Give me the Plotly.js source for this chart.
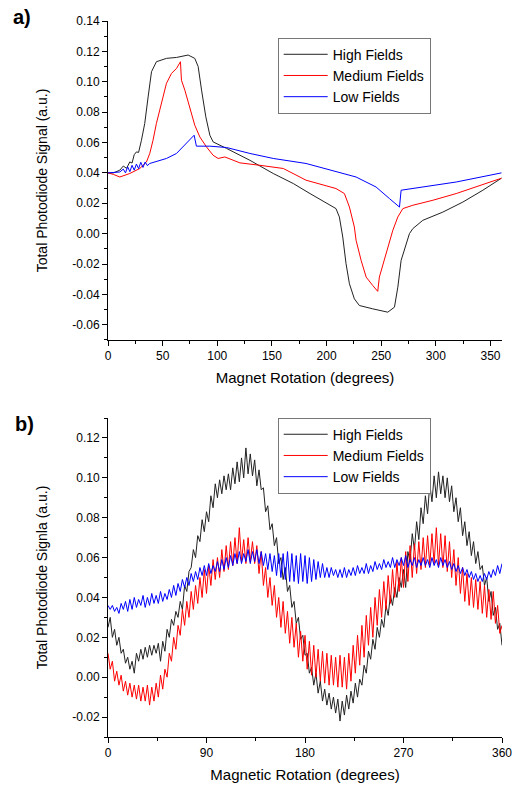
<!DOCTYPE html>
<html>
<head>
<meta charset="utf-8">
<script src="https://cdn.plot.ly/plotly-3.0.1.min.js"></script>
<style>html,body{margin:0;padding:0;background:#fff;}#chart{width:512px;height:790px;}</style>
</head>
<body>
<div id="chart"></div>
<script>
// ---------- Panel a) data ----------
const highA_x = [0,5,10.8,14,17,19.9,22,24,26,28,30.6,33.6,36.7,39.8,44.3,53.5,62.7,73.3,79.4,82.5,85.6,89.5,93.2,96.2,108.5,129.8,151.2,169.5,184.8,208.6,211.7,214.8,217.8,220.9,225.4,230,242.2,256,262.1,265.2,268.2,272.8,275.8,278.9,288.1,306.4,324.7,343,360];
const highA_y = [0.040,0.040,0.0418,0.0445,0.043,0.0472,0.0465,0.052,0.0538,0.0535,0.0615,0.0725,0.090,0.1066,0.1132,0.1154,0.116,0.1176,0.1154,0.110,0.0945,0.0769,0.0648,0.0604,0.0561,0.0483,0.0396,0.033,0.0264,0.0165,0.011,-0.0022,-0.0198,-0.033,-0.0429,-0.0473,-0.0495,-0.0517,-0.0484,-0.0352,-0.0176,-0.0066,0.000,0.0033,0.0088,0.0142,0.0208,0.0286,0.0365];
const medA_x = [0,5,10.8,19.9,29.1,35.2,38.2,41.2,44.3,48.9,53.5,58.1,62.7,66.3,67.2,70.3,74.9,79.4,84,90.1,96.2,100.8,106.9,113,120.7,139,160.4,181.2,208.6,216.3,220.9,225.4,227,231.6,236.2,242.2,246.8,248.3,251.4,256,260.6,265.2,269.8,278.9,297.3,318.6,336.9,360];
const medA_y = [0.040,0.039,0.0373,0.0396,0.0429,0.0472,0.0528,0.0615,0.0726,0.0858,0.099,0.1055,0.1088,0.1132,0.101,0.0945,0.0835,0.0714,0.0637,0.0571,0.0516,0.0495,0.0505,0.0488,0.0466,0.045,0.0429,0.0352,0.0297,0.0264,0.0175,0.0044,-0.0044,-0.0176,-0.0286,-0.0341,-0.038,-0.0286,-0.0209,-0.0088,0.0022,0.011,0.0165,0.0187,0.022,0.0264,0.0307,0.0365];
const lowA_x = [0,10.8,14,16,18,20,22,24,26,28,30,32,34,36,38.2,53.5,62.7,71.8,78.8,80.9,93.2,108.5,129.8,151.2,181.2,227,245.3,257.5,266.7,268.2,288.1,318.6,360];
const lowA_y = [0.040,0.0406,0.0425,0.0400,0.0440,0.0408,0.0450,0.0418,0.0458,0.0428,0.0470,0.0436,0.0472,0.0448,0.0462,0.0495,0.0528,0.0594,0.0648,0.0576,0.0576,0.0567,0.0528,0.0495,0.0462,0.0373,0.0307,0.0231,0.0175,0.0286,0.0307,0.034,0.040];

// ---------- Panel b) data (sampled every 2 degrees, 0..360) ----------
const highB_y = [0.025,0.030,0.020,0.024,0.016,0.020,0.012,0.014,0.007,0.010,
0.004,0.008,0.002,0.012,0.008,0.014,0.009,0.015,0.010,0.016,
0.011,0.016,0.012,0.017,0.008,0.018,0.013,0.024,0.020,0.029,
0.026,0.033,0.030,0.038,0.034,0.046,0.043,0.053,0.055,0.064,
0.060,0.071,0.068,0.079,0.073,0.083,0.078,0.091,0.085,0.097,
0.090,0.099,0.092,0.101,0.094,0.102,0.094,0.105,0.097,0.108,
0.098,0.110,0.100,0.115,0.102,0.112,0.101,0.109,0.096,0.104,
0.094,0.095,0.083,0.086,0.074,0.077,0.066,0.070,0.057,0.060,
0.049,0.055,0.043,0.046,0.035,0.038,0.027,0.030,0.019,0.021,
0.011,0.012,0.002,0.005,-0.004,0.002,-0.008,-0.002,-0.012,-0.006,
-0.014,-0.008,-0.016,-0.010,-0.018,-0.011,-0.022,-0.012,-0.019,-0.009,
-0.016,-0.007,-0.013,-0.003,-0.010,-0.001,-0.004,0.006,0.002,0.013,
0.009,0.019,0.014,0.025,0.020,0.029,0.025,0.036,0.031,0.041,
0.036,0.045,0.040,0.050,0.045,0.054,0.045,0.063,0.058,0.072,
0.064,0.078,0.069,0.085,0.077,0.091,0.082,0.097,0.088,0.101,
0.090,0.103,0.092,0.101,0.090,0.100,0.088,0.096,0.083,0.090,
0.078,0.085,0.071,0.078,0.066,0.073,0.061,0.068,0.057,0.063,
0.054,0.056,0.046,0.050,0.038,0.043,0.031,0.035,0.024,0.027,
0.016];
const medB_y = [0.012,0.004,0.008,-0.002,0.003,-0.004,0.001,-0.007,-0.002,-0.009,
-0.003,-0.010,-0.004,-0.011,-0.004,-0.012,-0.005,-0.012,-0.004,-0.014,
-0.005,-0.012,-0.003,-0.010,0.001,-0.006,0.004,0.000,0.012,0.008,
0.020,0.014,0.026,0.021,0.034,0.026,0.038,0.030,0.043,0.034,
0.046,0.037,0.050,0.040,0.054,0.042,0.056,0.046,0.059,0.049,
0.060,0.050,0.064,0.053,0.066,0.054,0.068,0.056,0.070,0.057,
0.075,0.058,0.069,0.057,0.070,0.058,0.068,0.057,0.066,0.052,
0.063,0.046,0.055,0.040,0.050,0.036,0.046,0.030,0.040,0.025,
0.038,0.022,0.033,0.017,0.030,0.015,0.027,0.010,0.023,0.008,
0.021,0.004,0.018,0.001,0.016,0.000,0.014,-0.002,0.013,-0.003,
0.012,-0.004,0.011,-0.004,0.010,-0.005,0.011,-0.005,0.010,-0.006,
0.012,-0.002,0.016,0.002,0.021,0.006,0.026,0.010,0.031,0.016,
0.035,0.020,0.040,0.026,0.044,0.030,0.048,0.034,0.051,0.037,
0.054,0.040,0.058,0.043,0.060,0.045,0.063,0.048,0.066,0.050,
0.067,0.052,0.068,0.054,0.070,0.055,0.071,0.056,0.072,0.057,
0.075,0.056,0.072,0.055,0.071,0.053,0.068,0.050,0.064,0.046,
0.060,0.042,0.055,0.038,0.052,0.036,0.050,0.035,0.049,0.034,
0.048,0.032,0.046,0.030,0.044,0.029,0.043,0.027,0.036,0.022,
0.026];
const lowB_y = [0.036,0.034,0.036,0.033,0.035,0.032,0.037,0.034,0.038,0.033,
0.039,0.034,0.040,0.035,0.039,0.036,0.041,0.035,0.040,0.036,
0.042,0.037,0.041,0.037,0.043,0.038,0.042,0.039,0.044,0.040,
0.046,0.041,0.047,0.043,0.049,0.045,0.050,0.046,0.052,0.048,
0.053,0.049,0.055,0.051,0.056,0.051,0.057,0.052,0.056,0.053,
0.058,0.053,0.059,0.054,0.060,0.055,0.061,0.056,0.062,0.057,
0.063,0.057,0.062,0.058,0.064,0.057,0.063,0.058,0.064,0.057,
0.063,0.056,0.062,0.054,0.062,0.053,0.061,0.051,0.062,0.050,
0.062,0.049,0.063,0.048,0.062,0.048,0.061,0.047,0.062,0.048,
0.061,0.047,0.060,0.048,0.059,0.049,0.058,0.050,0.057,0.050,
0.055,0.050,0.055,0.051,0.054,0.050,0.054,0.050,0.055,0.050,
0.054,0.051,0.055,0.051,0.056,0.052,0.055,0.052,0.057,0.052,
0.056,0.053,0.058,0.054,0.057,0.054,0.059,0.055,0.058,0.055,
0.060,0.055,0.059,0.056,0.060,0.056,0.061,0.055,0.059,0.056,
0.060,0.055,0.059,0.056,0.060,0.056,0.059,0.055,0.060,0.056,
0.059,0.055,0.060,0.056,0.059,0.055,0.058,0.054,0.057,0.053,
0.056,0.052,0.055,0.051,0.054,0.050,0.053,0.049,0.052,0.048,
0.051,0.048,0.052,0.049,0.053,0.050,0.054,0.051,0.056,0.052,
0.057];

// ---------- Tick labels ----------
const yTicksA = [-0.06,-0.04,-0.02,0.00,0.02,0.04,0.06,0.08,0.10,0.12,0.14];
const yLabelsA = ["-0.06","-0.04","-0.02","0.00","0.02","0.04","0.06","0.08","0.10","0.12","0.14"];
const xTicksA = [0,50,100,150,200,250,300,350];
const yTicksB = [-0.02,0.00,0.02,0.04,0.06,0.08,0.10,0.12];
const yLabelsB = ["-0.02","0.00","0.02","0.04","0.06","0.08","0.10","0.12"];
const xTicksB = [0,90,180,270,360];
const seriesNames = ["High Fields","Medium Fields","Low Fields"];
const seriesColors = ["#222222","#ff0000","#0000ff"];

function degs(arr){ const n = arr.length; return arr.map((_,i)=> i*360/(n-1)); }

const FONT = "Liberation Sans, Arial, sans-serif";
const traces = [
  {x: highA_x, y: highA_y, name: seriesNames[0], line:{color:seriesColors[0], width:1}, xaxis:'x', yaxis:'y', legend:'legend'},
  {x: medA_x, y: medA_y, name: seriesNames[1], line:{color:seriesColors[1], width:1}, xaxis:'x', yaxis:'y', legend:'legend'},
  {x: lowA_x, y: lowA_y, name: seriesNames[2], line:{color:seriesColors[2], width:1}, xaxis:'x', yaxis:'y', legend:'legend'},
  {x: degs(highB_y), y: highB_y, name: seriesNames[0], line:{color:seriesColors[0], width:1}, xaxis:'x2', yaxis:'y2', legend:'legend2'},
  {x: degs(medB_y), y: medB_y, name: seriesNames[1], line:{color:seriesColors[1], width:1}, xaxis:'x2', yaxis:'y2', legend:'legend2'},
  {x: degs(lowB_y), y: lowB_y, name: seriesNames[2], line:{color:seriesColors[2], width:1}, xaxis:'x2', yaxis:'y2', legend:'legend2'}
].map(t => Object.assign({type:'scatter', mode:'lines'}, t));

const axisCommon = {
  showline:true, linecolor:'#000', linewidth:1, mirror:false,
  ticks:'outside', ticklen:5, tickwidth:1, tickcolor:'#000',
  showgrid:false, zeroline:false, ticklabeloverflow:'allow',
  tickfont:{family:FONT, size:12, color:'#000'}
};
const legendCommon = {
  bgcolor:'#fff', bordercolor:'#777', borderwidth:1,
  font:{family:FONT, size:14, color:'#000'},
  itemwidth:44,
  xanchor:'left', yanchor:'top', xref:'paper', yref:'paper', tracegroupgap:0
};

const layout = {
  width:512, height:790,
  margin:{l:108, r:10, t:21, b:53},
  paper_bgcolor:'#fff', plot_bgcolor:'#fff',
  font:{family:FONT, color:'#000'},
  xaxis: Object.assign({}, axisCommon, {
    domain:[0,1], anchor:'y', range:[0,360.5],
    tickmode:'array', tickvals:xTicksA,
    minor:{ticks:'outside', ticklen:3, tickcolor:'#000', dtick:25, tick0:0},
    title:{text:'Magnet Rotation (degrees)', font:{family:FONT, size:15}, standoff:10}
  }),
  yaxis: Object.assign({}, axisCommon, {
    domain:[0.5545,1], anchor:'x', range:[-0.07,0.14],
    tickmode:'array', tickvals:yTicksA, ticktext:yLabelsA,
    minor:{ticks:'outside', ticklen:3, tickcolor:'#000', dtick:0.01, tick0:0},
    title:{text:'Total Photodiode Signal (a.u.)', font:{family:FONT, size:14}, standoff:21}
  }),
  xaxis2: Object.assign({}, axisCommon, {
    domain:[0,1], anchor:'y2', range:[0,360],
    tickmode:'array', tickvals:xTicksB,
    minor:{ticks:'outside', ticklen:3, tickcolor:'#000', dtick:45, tick0:0},
    title:{text:'Magnetic Rotation (degrees)', font:{family:FONT, size:15}, standoff:10}
  }),
  yaxis2: Object.assign({}, axisCommon, {
    domain:[0,0.4455], anchor:'x2', range:[-0.03,0.13],
    tickmode:'array', tickvals:yTicksB, ticktext:yLabelsB,
    minor:{ticks:'outside', ticklen:3, tickcolor:'#000', dtick:0.01, tick0:0},
    title:{text:'Total Photodiode Signla (a.u.)', font:{family:FONT, size:14}, standoff:21}
  }),
  legend: Object.assign({}, legendCommon, {x:0.4307, y:0.9767}),
  legend2: Object.assign({}, legendCommon, {x:0.4307, y:0.446}),
  annotations:[
    {text:'<b>a)</b>', xref:'paper', yref:'paper', x:-0.245, y:1.024, xanchor:'left', yanchor:'top', showarrow:false, font:{family:FONT, size:20, color:'#000'}},
    {text:'<b>b)</b>', xref:'paper', yref:'paper', x:-0.24, y:0.4555, xanchor:'left', yanchor:'top', showarrow:false, font:{family:FONT, size:20, color:'#000'}}
  ],
  showlegend:true
};

Plotly.newPlot('chart', traces, layout, {displayModeBar:false, staticPlot:true});
</script>
</body>
</html>
